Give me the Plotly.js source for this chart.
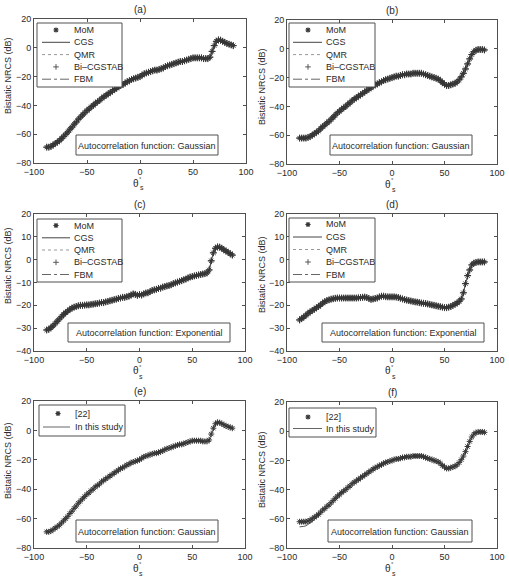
<!DOCTYPE html>
<html><head><meta charset="utf-8">
<script src="https://cdn.plot.ly/plotly-3.0.1.min.js"></script>
<style>html,body{margin:0;padding:0;background:#fff}#chart{width:509px;height:581px}</style>
</head><body><div id="chart"></div>
<script>
// ---------- data ----------
const theta = [-88,-86,-84,-82,-80,-78,-76,-74,-72,-70,-68,-66,-64,-62,-60,-58,-56,-54,-52,-50,-48,-46,-44,-42,-40,-38,-36,-34,-32,-30,-28,-26,-24,-22,-20,-18,-16,-14,-12,-10,-8,-6,-4,-2,0,2,4,6,8,10,12,14,16,18,20,22,24,26,28,30,32,34,36,38,40,42,44,46,48,50,52,54,56,58,60,62,64,66,68,70,72,74,76,78,80,82,84,86,88];

// (a)/(e) Gaussian, surface 1
const gaussA = [-69,-69,-68.5,-67.5,-66.5,-65.5,-64.5,-63,-61.5,-60,
  -58.5,-56.5,-55,-53,-51.5,-49.5,-48,-46.5,-45,-43.5,
  -42.5,-41,-40,-38.5,-37.5,-36.5,-35,-34,-33,-32,
  -31,-30,-29,-28,-27,-26,-25.5,-24.5,-23.5,-23,
  -22,-21.5,-21,-20.5,-20,-19,-18,-17.5,-17,-16.5,
  -16,-15.5,-15.5,-15,-14.5,-14,-13,-12.5,-12,-11.5,
  -11,-10.5,-10,-9.5,-9.5,-9,-8.5,-8,-7.5,-7,
  -7,-7,-7,-7,-7.5,-7.5,-7.5,-6.5,-2.5,1.5,
  4.5,5.5,5.3,4.5,3.8,3,2.5,2,1.5];

// (b)/(f) Gaussian, surface 2
const gaussB = [-62,-62,-62,-62,-61.5,-61,-60,-59,-58,-57,
  -55.5,-54,-53,-51.5,-50.5,-49,-47.5,-46,-44.5,-43.5,
  -42,-41,-40,-38.5,-37.5,-36,-35,-34,-33,-32,
  -31,-30,-29,-28,-27,-26,-25,-24.5,-23.5,-23,
  -22,-21.5,-21,-20.5,-20,-19.5,-19,-19,-18.5,-18,
  -18,-17.5,-17.5,-17.5,-17,-17,-17,-17,-17,-17.5,
  -18,-18.5,-19,-19.5,-20,-20.5,-21,-22,-23.5,-24.5,
  -25.5,-25.5,-25,-24.5,-24,-23,-21.5,-19.5,-17,-14,
  -10.5,-7,-4,-2,-1,-0.5,-0.5,-0.5,-0.8];

// (f) "In this study" line
const studyF = [-65.5,-65.5,-65.2,-64.8,-64,-63,-62,-60.5,-59,-57.5,
  -55.5,-54,-53,-51.5,-50.5,-49,-47.5,-46,-44.5,-43.5,
  -42,-41,-40,-38.5,-37.5,-36,-35,-34,-33,-32,
  -31,-30,-29,-28,-27,-26,-25,-24.5,-23.5,-23,
  -22,-21.5,-21,-20.5,-20,-19.5,-19,-19,-18.5,-18,
  -18,-17.5,-17.5,-17.5,-17,-17,-17,-17,-17,-17.5,
  -18,-18.5,-19,-19.5,-20,-20.5,-21,-22,-23.5,-24.5,
  -25.5,-25.5,-25,-24.5,-24,-23,-21.5,-19.5,-17,-14,
  -10.5,-7,-4,-2,-1,-0.5,-0.5,-0.5,-0.8];

// (c) Exponential, surface 1
const expC = [-30.8,-30.5,-29.8,-29,-28,-27,-26,-25,-24,-23.2,
  -22.5,-21.8,-21.2,-20.8,-20.5,-20.2,-20,-20,-19.9,-19.8,
  -19.8,-19.6,-19.5,-19.3,-19.2,-19,-18.8,-18.8,-18.5,-18.3,
  -18,-17.8,-17.5,-17.3,-17,-16.8,-16.5,-16.5,-16.2,-16,
  -15.5,-15,-15.2,-15.6,-15.3,-15.5,-15,-14.6,-14.5,-14,
  -13.5,-13.2,-13,-12.6,-12.5,-12,-11.8,-11.5,-11.3,-11,
  -10.5,-10.2,-9.8,-9.5,-9.2,-8.8,-8.5,-8,-7.6,-7.4,
  -7.1,-6.9,-6.7,-6.5,-6.3,-6.1,-5.8,-4.5,-0.5,3,
  5,5.6,5.5,5,4.3,3.8,3.2,2.6,2];

// (d) Exponential, surface 2
const expD = [-26.4,-25.8,-25.1,-24.4,-23.5,-22.9,-22.3,-21.7,-21.1,-20.5,
  -19.8,-19,-18.4,-17.9,-17.6,-17.3,-17.1,-16.9,-16.8,-16.8,
  -16.8,-16.8,-16.8,-16.8,-16.8,-16.8,-16.8,-16.8,-16.7,-16.6,
  -16.5,-16.4,-16.6,-17,-17.4,-17.2,-17,-16.8,-16.3,-16,
  -16,-16.2,-16.3,-16.3,-16.3,-16.3,-16.4,-16.6,-16.9,-17.2,
  -17.5,-17.7,-17.9,-18.1,-18.3,-18.5,-18.6,-18.8,-19,-19.1,
  -19.2,-19.4,-19.6,-19.8,-20,-20.2,-20.4,-20.6,-20.8,-21,
  -21,-20.8,-20.5,-20,-19.5,-19,-18.3,-17.2,-14.5,-10.5,
  -7,-4.5,-2.3,-1.5,-1.2,-1,-1,-1,-1];

const methods = ['MoM','CGS','QMR','Bi\u2013CGSTAB','FBM'];
const compare = ['[22]','In this study'];
const panelLabels = ['(a)','(b)','(c)','(d)','(e)','(f)'];
const acfLabels = ['Autocorrelation function: Gaussian','Autocorrelation function: Gaussian',
  'Autocorrelation function: Exponential','Autocorrelation function: Exponential',
  'Autocorrelation function: Gaussian','Autocorrelation function: Gaussian'];
const yTitle = 'Bistatic NRCS (dB)';

// ---------- layout geometry (pixels) ----------
const W = 509, H = 581;
const PX = x => x / W, PY = y => 1 - y / H;
const FONT = 'Liberation Sans, Arial, Helvetica, sans-serif';
const INK = '#2a2a2a', MARK = '#363636', FRAME = '#505050';

const panels = [
  {box:[34,246,19,163], yr:[-80,20], dt:20, kind:5, mk:gaussA, ln:gaussA,
   leg:{box:[37,122,23,87], ys:[30,42.3,54.6,66.9,79.2], l:[42,70], mx:56, tx:72},
   acf:[76,218,135,155], ylab:{x:8,y:76}},
  {box:[287,497,20,164], yr:[-80,20], dt:20, kind:5, mk:gaussB, ln:gaussB,
   leg:{box:[289,375,23,87], ys:[30,42.3,54.6,66.9,79.2], l:[293,322], mx:308, tx:324},
   acf:[330,472,135,155], ylab:{x:262,y:87}},
  {box:[34,245,214,351], yr:[-40,20], dt:10, kind:5, mk:expC, ln:expC,
   leg:{box:[37,122,219,282], ys:[225.5,237.8,250,262.3,274.5], l:[42,70], mx:56, tx:72},
   acf:[68,230,323,342], ylab:{x:8,y:266}},
  {box:[287,497,214,351], yr:[-40,20], dt:10, kind:5, mk:expD, ln:expD,
   leg:{box:[289,375,218,282], ys:[224.5,237,249.5,262,274.5], l:[293,322], mx:308, tx:324},
   acf:[322,484,323,342], ylab:{x:262,y:275}},
  {box:[34,245,401,548], yr:[-80,20], dt:20, kind:2, mk:gaussA, ln:gaussA,
   leg:{box:[39,125,405,436], ys:[413.5,427], l:[43,70], mx:58, tx:73},
   acf:[76,218,520,542], ylab:{x:8,y:461}},
  {box:[287,497,402,548], yr:[-80,20], dt:20, kind:2, mk:gaussB, ln:studyF,
   leg:{box:[289,376,408,437], ys:[417,428.5], l:[293,322], mx:308, tx:324},
   acf:[328,472,520,542], ylab:{x:262,y:470}}
];

const traces = [], shapes = [], annotations = [];
const layout = {width:W, height:H, margin:{l:0,r:0,t:0,b:0}, paper_bgcolor:'#fff', plot_bgcolor:'#fff',
  showlegend:false, font:{family:FONT, size:9, color:INK}};

function txt(x, y, text, size, opts) {
  annotations.push(Object.assign({xref:'paper', yref:'paper', x:PX(x), y:PY(y), text:text, showarrow:false,
    xanchor:'center', yanchor:'middle', font:{family:FONT, size:size, color:INK}}, opts || {}));
}
function rect(b) {
  shapes.push({type:'rect', xref:'paper', yref:'paper', x0:PX(b[0]), x1:PX(b[1]), y0:PY(b[3]), y1:PY(b[2]),
    line:{color:FRAME, width:1}, fillcolor:'#fff', layer:'above'});
}
function hline(x0, x1, y, dash, color) {
  shapes.push({type:'line', xref:'paper', yref:'paper', x0:PX(x0), x1:PX(x1), y0:PY(y), y1:PY(y),
    line:{color:color || INK, width:1, dash:dash}, layer:'above'});
}
function star(cx, cy, r) {
  const d = r * 0.72;
  const p = `M${PX(cx-r)},${PY(cy)} L${PX(cx+r)},${PY(cy)} M${PX(cx)},${PY(cy-r)} L${PX(cx)},${PY(cy+r)} ` +
            `M${PX(cx-d)},${PY(cy-d)} L${PX(cx+d)},${PY(cy+d)} M${PX(cx-d)},${PY(cy+d)} L${PX(cx+d)},${PY(cy-d)}`;
  shapes.push({type:'path', xref:'paper', yref:'paper', path:p, line:{color:MARK, width:1.2}, layer:'above'});
}
function plus(cx, cy, r) {
  const p = `M${PX(cx-r)},${PY(cy)} L${PX(cx+r)},${PY(cy)} M${PX(cx)},${PY(cy-r)} L${PX(cx)},${PY(cy+r)}`;
  shapes.push({type:'path', xref:'paper', yref:'paper', path:p, line:{color:'#555', width:1}, layer:'above'});
}

panels.forEach((p, i) => {
  const n = i + 1, xa = 'x' + (n === 1 ? '' : n), ya = 'y' + (n === 1 ? '' : n);
  const xk = 'xaxis' + (n === 1 ? '' : n), yk = 'yaxis' + (n === 1 ? '' : n);
  const [x0, x1, y0, y1] = p.box;
  const common = {showline:true, mirror:'ticks', linecolor:FRAME, linewidth:1, ticks:'inside', ticklen:3,
    tickcolor:FRAME, showgrid:false, zeroline:false, tickfont:{family:FONT, size:9, color:INK}, fixedrange:true};
  layout[xk] = Object.assign({}, common, {domain:[PX(x0), PX(x1)], range:[-100,100],
    tickvals:[-100,-50,0,50,100], anchor:ya});
  layout[yk] = Object.assign({}, common, {domain:[PY(y1), PY(y0)], range:p.yr, dtick:p.dt, tick0:p.yr[0], anchor:xa});

  const mk = {color:MARK, size:5, line:{color:MARK, width:1}};
  if (p.kind === 5) {
    traces.push({x:theta, y:p.ln, xaxis:xa, yaxis:ya, mode:'lines', name:methods[1], line:{color:'#444', width:1}});
    traces.push({x:theta, y:p.ln, xaxis:xa, yaxis:ya, mode:'lines', name:methods[2], line:{color:'#777', width:1, dash:'dot'}});
    traces.push({x:theta, y:p.ln, xaxis:xa, yaxis:ya, mode:'lines', name:methods[4], line:{color:'#555', width:1, dash:'dashdot'}});
    traces.push({x:theta, y:p.mk, xaxis:xa, yaxis:ya, mode:'markers', name:methods[0], marker:Object.assign({symbol:'asterisk-open'}, mk)});
    traces.push({x:theta, y:p.mk, xaxis:xa, yaxis:ya, mode:'markers', name:methods[3], marker:Object.assign({symbol:'cross-thin-open'}, mk)});
  } else {
    traces.push({x:theta, y:p.ln, xaxis:xa, yaxis:ya, mode:'lines', name:compare[1], line:{color:'#555', width:1}});
    traces.push({x:theta, y:p.mk, xaxis:xa, yaxis:ya, mode:'markers', name:compare[0], marker:Object.assign({symbol:'asterisk-open'}, mk)});
  }

  // legend
  const L = p.leg;
  rect(L.box);
  if (p.kind === 5) {
    methods.forEach((m, k) => {
      if (k === 0) star(L.mx, L.ys[k], 2.6);
      else if (k === 1) hline(L.l[0], L.l[1], L.ys[k], 'solid', '#444');
      else if (k === 2) hline(L.l[0], L.l[1], L.ys[k], 'dot', '#999');
      else if (k === 3) plus(L.mx, L.ys[k], 2.8);
      else hline(L.l[0], L.l[1], L.ys[k], 'dashdot', '#666');
      txt(L.tx, L.ys[k], m, 9, {xanchor:'left'});
    });
  } else {
    star(L.mx, L.ys[0], 2.6);
    hline(L.l[0], L.l[1], L.ys[1], 'solid', '#666');
    compare.forEach((m, k) => txt(L.tx, L.ys[k], m, 9, {xanchor:'left'}));
  }

  // autocorrelation box
  rect(p.acf);
  txt((p.acf[0] + p.acf[1]) / 2, (p.acf[2] + p.acf[3]) / 2 + 0.5, acfLabels[i], 9);

  // titles
  const cx = (x0 + x1) / 2;
  txt(cx, y0 - 9.5, panelLabels[i], 10);
  txt(cx - 4, y1 + 20, '\u03b8', 10);
  txt(cx + 0.5, y1 + 16, '\u00b0', 6);
  txt(cx + 1.5, y1 + 25, 's', 7);
  txt(p.ylab.x, p.ylab.y, yTitle, 9, {textangle:-90});
});

layout.shapes = shapes;
layout.annotations = annotations;
Plotly.newPlot('chart', traces, layout, {staticPlot:true, displayModeBar:false});
</script>
</body></html>
